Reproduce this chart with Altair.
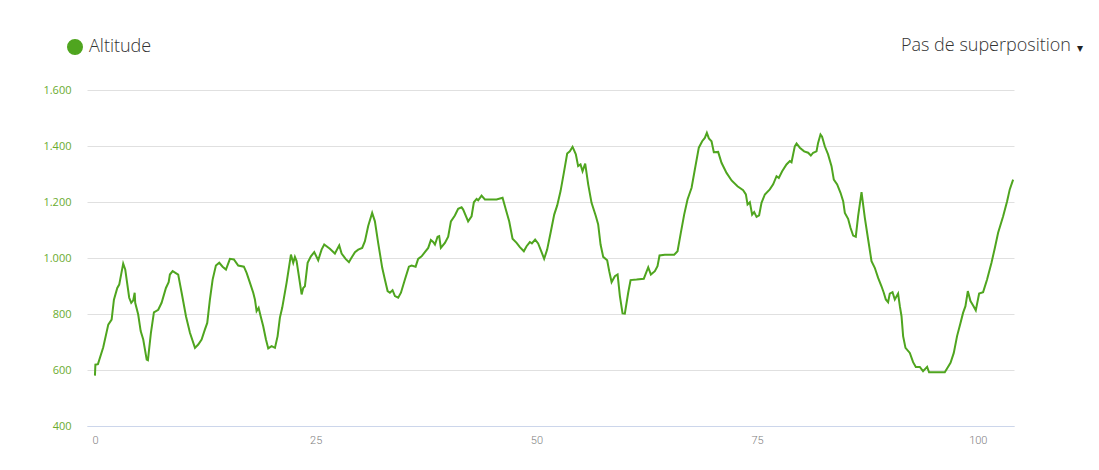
import altair as alt
import pandas as pd

km = [0.0, 0.05, 0.34, 0.94, 1.51, 1.89, 2.15, 2.53, 2.75, 3.20, 3.43, 3.88, 4.11, 4.34, 4.50, 4.56,
      4.90, 5.18, 5.47, 5.86, 6.00, 6.34, 6.68, 7.17, 7.55, 8.04, 8.35, 8.49, 8.80, 9.43, 9.82,
      10.31, 10.76, 11.33, 11.70, 12.08, 12.46, 12.72, 13.02, 13.33, 13.70, 14.08, 14.46, 14.84,
      15.29, 15.74, 16.23, 16.87, 17.18, 17.55, 17.93, 18.12, 18.31, 18.54, 18.77, 19.06, 19.37,
      19.63, 20.01, 20.39, 20.69, 20.95, 21.21, 21.71, 22.20, 22.46, 22.65, 22.84, 23.10, 23.41,
      23.59, 23.78, 24.09, 24.46, 24.84, 25.29, 25.67, 25.97, 26.61, 27.18, 27.67, 27.94, 28.39,
      28.77, 28.99, 29.45, 29.82, 30.27, 30.58, 30.95, 31.40, 31.71, 32.08, 32.54, 32.84, 33.15,
      33.41, 33.71, 33.98, 34.35, 34.66, 35.11, 35.56, 35.87, 36.32, 36.61, 37.00, 37.37, 37.75,
      38.05, 38.31, 38.51, 38.81, 38.99, 39.18, 39.64, 40.01, 40.32, 40.77, 41.14, 41.53, 41.71,
      42.27, 42.66, 42.92, 43.23, 43.41, 43.79, 44.17, 45.49, 46.17, 46.54, 46.92, 47.30, 47.76,
      48.13, 48.58, 48.89, 49.26, 49.49, 49.86, 50.20, 50.59, 50.88, 51.22, 51.61, 52.02, 52.36,
      52.74, 53.11, 53.49, 53.79, 54.10, 54.47, 54.73, 55.00, 55.23, 55.53, 55.87, 56.25, 56.74,
      57.00, 57.27, 57.57, 58.02, 58.25, 58.52, 58.89, 59.20, 59.46, 59.76, 60.02, 60.40, 60.67,
      61.35, 62.17, 62.67, 62.97, 63.42, 63.72, 63.95, 64.55, 65.61, 65.99, 66.36, 66.74, 67.12,
      67.58, 67.95, 68.40, 68.78, 69.08, 69.31, 69.54, 69.84, 70.10, 70.59, 70.97, 71.54, 72.11,
      72.78, 73.42, 73.73, 73.92, 74.18, 74.44, 74.67, 74.94, 75.23, 75.50, 75.88, 76.44, 76.82,
      77.20, 77.46, 77.84, 78.33, 78.71, 78.90, 79.27, 79.47, 79.84, 80.33, 80.78, 81.09, 81.35,
      81.73, 81.91, 82.18, 82.36, 82.67, 83.04, 83.43, 83.69, 84.07, 84.45, 84.75, 84.94, 85.31,
      85.58, 85.88, 86.18, 86.44, 86.83, 87.20, 87.58, 87.96, 88.33, 88.71, 89.09, 89.35, 89.58,
      89.84, 90.03, 90.34, 90.60, 90.97, 91.17, 91.36, 91.54, 91.81, 92.30, 92.67, 92.98, 93.43,
      93.80, 94.26, 94.48, 96.26, 96.45, 96.91, 97.28, 97.65, 98.04, 98.33, 98.60, 98.87, 99.17,
      99.47, 99.77, 100.15, 100.60, 101.05, 101.55, 101.93, 102.30, 102.87, 103.32, 103.62, 104.00]

altitude = [580, 619, 621, 681, 762, 780, 851, 893, 905, 980, 959, 858, 840, 849, 876, 840,
            798, 739, 709, 637, 635, 733, 806, 815, 840, 893, 914, 941, 953, 941, 876,
            792, 733, 679, 691, 709, 745, 768, 851, 923, 973, 983, 969, 959,
            997, 995, 973, 969, 947, 912, 876, 852, 810, 822, 792, 756, 709,
            677, 685, 679, 721, 787, 822, 912, 1012, 983, 1004, 989, 935, 870,
            893, 899, 983, 1006, 1021, 992, 1030, 1048, 1033, 1016, 1045, 1016, 997,
            985, 997, 1021, 1030, 1036, 1060, 1114, 1161, 1131, 1054, 965, 923, 882,
            876, 885, 864, 858, 876, 923, 969, 973, 969, 997, 1006, 1021, 1036,
            1064, 1057, 1048, 1076, 1078, 1036, 1054, 1076, 1131, 1152, 1176, 1181, 1173,
            1131, 1149, 1199, 1211, 1206, 1223, 1209, 1209, 1215, 1173, 1131, 1069, 1054,
            1039, 1024, 1042, 1057, 1052, 1066, 1052, 1021, 997, 1030, 1090, 1155, 1188,
            1239, 1304, 1373, 1381, 1397, 1370, 1328, 1334, 1310, 1337, 1263, 1197, 1149,
            1120, 1048, 1004, 992, 953, 914, 935, 941, 864, 802, 801, 876, 921,
            923, 926, 967, 941, 953, 971, 1009, 1012, 1012, 1024, 1090, 1155, 1209,
            1251, 1316, 1394, 1417, 1429, 1447, 1427, 1417, 1378, 1379, 1340, 1304, 1277,
            1256, 1242, 1227, 1191, 1199, 1155, 1164, 1147, 1152, 1197, 1227, 1245, 1263,
            1292, 1286, 1310, 1334, 1346, 1342, 1399, 1409, 1394, 1381, 1376, 1366, 1376,
            1381, 1411, 1441, 1433, 1399, 1370, 1328, 1280, 1263, 1233, 1203, 1161, 1140,
            1108, 1080, 1076, 1149, 1235, 1144, 1066, 989, 965, 929, 899, 876, 852,
            842, 873, 878, 852, 873, 828, 792, 721, 679, 661, 628, 611, 611,
            596, 611, 592, 592, 602, 626, 661, 721, 768, 804, 828, 882, 846,
            830, 813, 873, 878, 923, 983, 1036, 1090, 1149, 1203, 1245, 1280]

series_name = "Altitude"
menu_label = ["Pas de superposition"]
menu_arrow = ["▾"]
y_ticks = [400, 600, 800, 1000, 1200, 1400, 1600]
x_ticks = [0, 25, 50, 75, 100]

GREEN = "#4fa51f"
W, H = 927, 336

df = pd.DataFrame({"km": km, "alt": altitude, "series": [series_name] * len(km)})

line = (
    alt.Chart(df)
    .mark_line(strokeWidth=2, interpolate="linear")
    .encode(
        x=alt.X(
            "km:Q",
            scale=alt.Scale(domain=[-0.9, 104.1], nice=False, zero=False),
            axis=alt.Axis(
                values=x_ticks,
                title=None,
                grid=False,
                ticks=False,
                domain=True,
                domainColor="#ccd6eb",
                labelColor="#808080",
                labelFont="Roboto",
                labelFontWeight=300,
                labelFontSize=11,
                labelPadding=8,
            ),
        ),
        y=alt.Y(
            "alt:Q",
            scale=alt.Scale(domain=[400, 1600], nice=False, zero=False),
            axis=alt.Axis(
                values=y_ticks,
                title=None,
                grid=True,
                gridColor="#e0e0e0",
                ticks=False,
                domain=False,
                labelColor="#6aab2f",
                labelFont="Open Sans",
                labelFontSize=11,
                labelPadding=16,
                labelExpr="replace(format(datum.value, ','), ',', '.')",
            ),
        ),
        color=alt.Color(
            "series:N",
            scale=alt.Scale(range=[GREEN]),
            legend=alt.Legend(
                title=None,
                orient="none",
                legendX=-21,
                legendY=-52,
                symbolType="circle",
                symbolFillColor=GREEN,
                symbolStrokeColor=GREEN,
                symbolSize=210,
                labelFont="Open Sans",
                labelFontWeight=300,
                labelFontSize=18,
                labelColor="#333333",
                labelOffset=5,
                padding=0,
            ),
        ),
    )
)

menu = (
    alt.Chart(pd.DataFrame({"label": menu_label}))
    .mark_text(
        align="right",
        baseline="middle",
        font="Open Sans",
        fontWeight=300,
        fontSize=18,
        color="#333333",
    )
    .encode(text="label:N", x=alt.value(W + 57), y=alt.value(-44))
)

arrow = (
    alt.Chart(pd.DataFrame({"label": menu_arrow}))
    .mark_text(
        align="right",
        baseline="middle",
        font="DejaVu Sans",
        fontSize=12,
        color="#222222",
    )
    .encode(text="label:N", x=alt.value(W + 69), y=alt.value(-42))
)

chart = (
    alt.layer(line, menu, arrow)
    .properties(
        width=W,
        height=H,
        autosize=alt.AutoSizeParams(type="none"),
        padding={"left": 79, "top": 82, "right": 70, "bottom": 30},
    )
    .configure_view(stroke=None)
)

chart.save("out.html", embed_options={"renderer": "svg", "actions": False})
